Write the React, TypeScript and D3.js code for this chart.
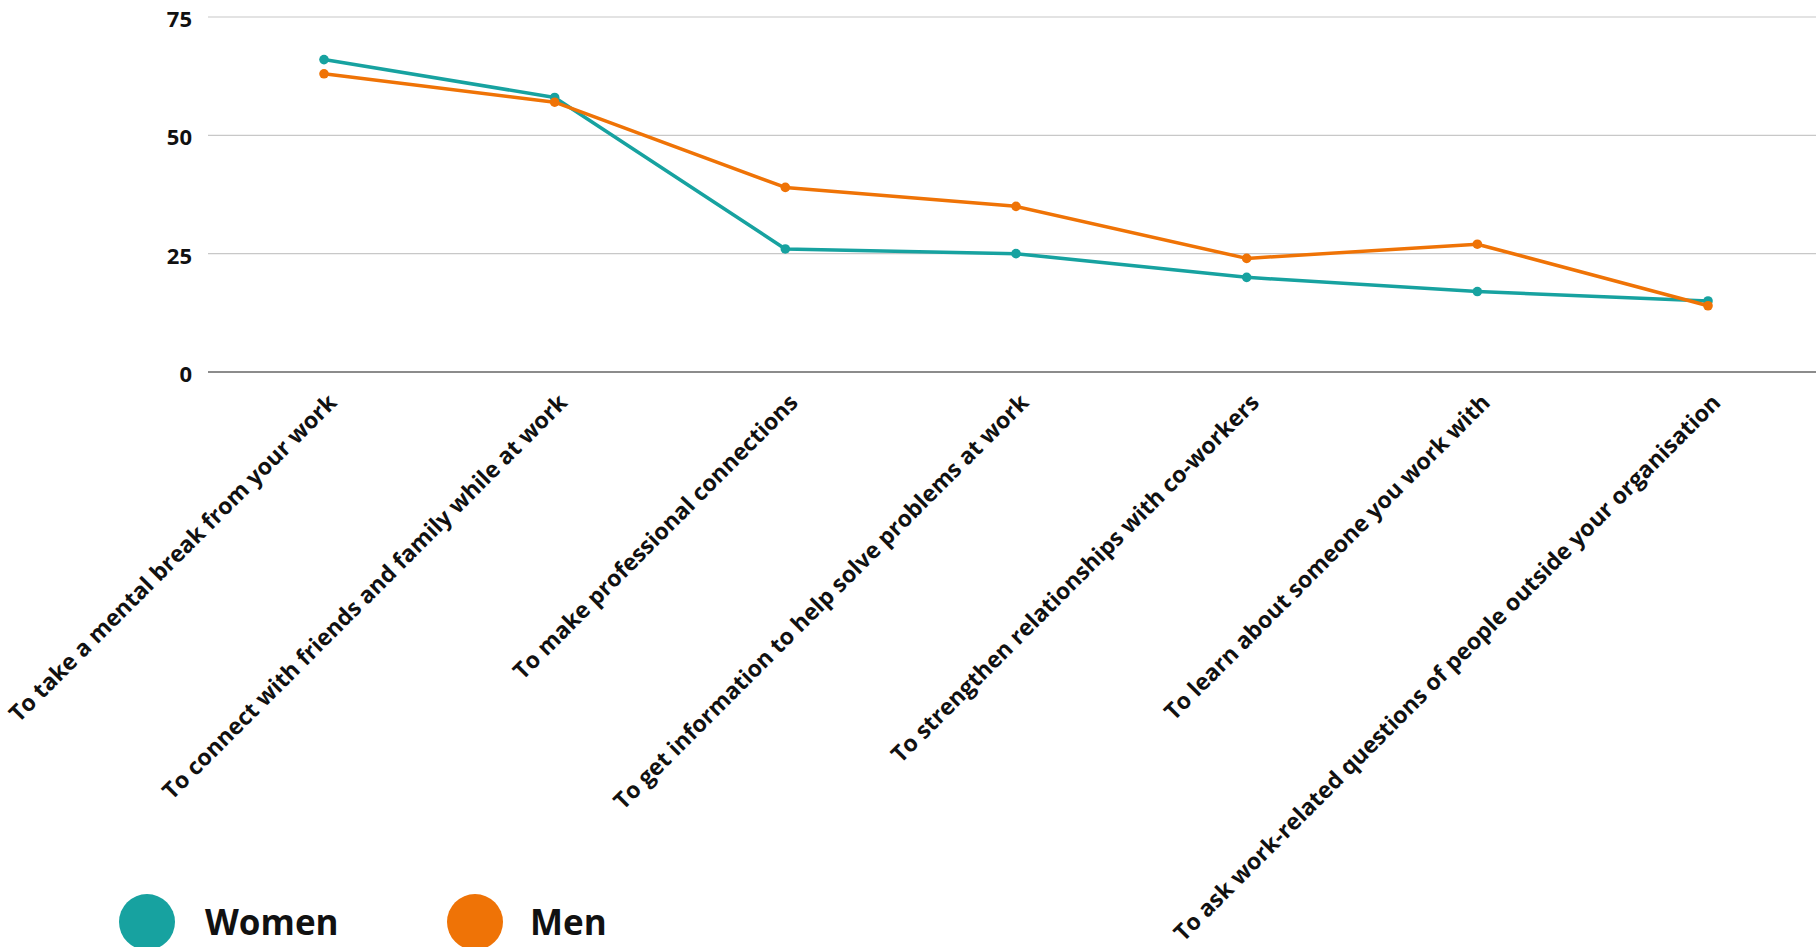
import React from "react";
import * as d3 from "d3";

const categories = [
  "To take a mental break from your work",
  "To connect with friends and family while at work",
  "To make professional connections",
  "To get information to help solve problems at work",
  "To strengthen relationships with co-workers",
  "To learn about someone you work with",
  "To ask work-related questions of people outside your organisation",
];

const women = [66, 58, 26, 25, 20, 17, 15];
const men = [63, 57, 39, 35, 24, 27, 14];

const yTicks = [0, 25, 50, 75];

const seriesNames = ["Women", "Men"];
const seriesColors = ["#17A2A0", "#EF7306"];

const W = 1816;
const H = 947;

export default function App() {
  const x = d3.scalePoint<string>().domain(categories).range([324, 1708]);
  const y = d3.scaleLinear().domain([0, 75]).range([372, 17]);

  const line = d3
    .line<number>()
    .x((_, i) => x(categories[i]) as number)
    .y((d) => y(d));

  const series = [women, men];

  return (
    <svg
      width={W}
      height={H}
      style={{ position: "absolute", left: 0, top: 0, background: "#fff" }}
    >
      {/* gridlines */}
      {yTicks.map((t) => (
        <line
          key={t}
          x1={208}
          x2={W}
          y1={y(t)}
          y2={y(t)}
          stroke={t === 0 ? "#666" : "#c8c8c8"}
          strokeWidth={t === 0 ? 1.5 : 1.2}
        />
      ))}
      {/* y tick labels */}
      {yTicks.map((t) => (
        <text
          key={"l" + t}
          x={192}
          y={y(t) + 4}
          textAnchor="end"
          dominantBaseline="middle"
          fontFamily="'Open Sans', sans-serif"
          fontWeight={700}
          fontSize={22}
          fill="#111"
        >
          {t}
        </text>
      ))}
      {/* x labels */}
      {categories.map((c) => {
        const cx = (x(c) as number) + 14;
        const cy = 404;
        return (
          <text
            key={c}
            x={cx}
            y={cy}
            transform={`rotate(-45 ${cx} ${cy})`}
            textAnchor="end"
            fontFamily="'Open Sans', sans-serif"
            fontWeight={700}
            fontSize={23}
            fill="#111"
          >
            {c}
          </text>
        );
      })}
      {/* lines */}
      {series.map((s, si) => (
        <g key={seriesNames[si]}>
          <path
            d={line(s) || ""}
            fill="none"
            stroke={seriesColors[si]}
            strokeWidth={3.5}
            strokeLinejoin="round"
          />
          {s.map((v, i) => (
            <circle
              key={i}
              cx={x(categories[i]) as number}
              cy={y(v)}
              r={4.8}
              fill={seriesColors[si]}
            />
          ))}
        </g>
      ))}
      {/* legend */}
      {seriesNames.map((n, i) => {
        const lx = 147 + i * 328;
        return (
          <g key={n}>
            <circle cx={lx} cy={922} r={28} fill={seriesColors[i]} />
            <text
              x={lx + 58 - i * 3}
              y={935}
              fontFamily="'Open Sans', sans-serif"
              fontWeight={700}
              fontSize={35}
              fill="#111"
            >
              {n}
            </text>
          </g>
        );
      })}
    </svg>
  );
}
